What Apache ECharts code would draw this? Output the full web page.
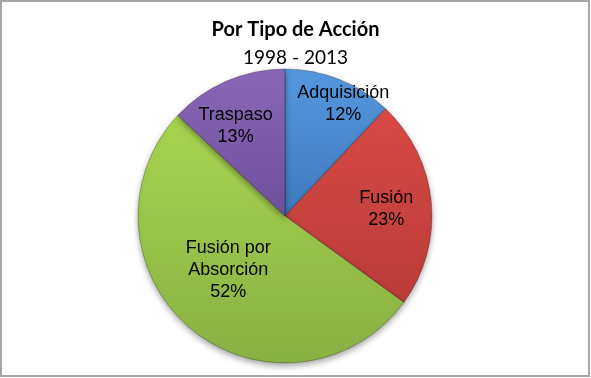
<!DOCTYPE html>
<html>
<head>
<meta charset="utf-8">
<script src="https://cdn.jsdelivr.net/npm/echarts@6/dist/echarts.min.js"></script>
<style>
  html, body { margin: 0; padding: 0; background: #fff; }
  #chart { width: 591px; height: 378px; }
</style>
</head>
<body>
<div id="chart"></div>
<script>
// datos del gráfico
const categories = ['Adquisición', 'Fusión', 'Fusión por\nAbsorción', 'Traspaso'];
const values = [12, 23, 52, 13];
// colores: claro arriba, oscuro abajo
const topColors = ['#5598de', '#d94a45', '#a8d44f', '#8a68b9'];
const bottomColors = ['#3f79bd', '#b93b38', '#89b043', '#6d4f9a'];
// desplazamiento de etiquetas (tipo "mejor ajuste" de Excel)
const labelShift = [[30, -41], [25, 0], [-8, -5], [-19, -20]];

const grad = (i) => new echarts.graphic.LinearGradient(0, 0, 0, 1, [
  { offset: 0, color: topColors[i] },
  { offset: 1, color: bottomColors[i] }
]);

const chart = echarts.init(document.getElementById('chart'));

const option = {
  backgroundColor: '#fff',
  animation: false,
  title: {
    text: 'Por Tipo de Acción',
    subtext: '1998 - 2013',
    left: 'center',
    top: 15,
    itemGap: 8,
    textStyle: { fontFamily: 'Lato', fontWeight: 'bold', fontSize: 20, color: '#000' },
    subtextStyle: { fontFamily: 'Lato', fontSize: 19, color: '#000' }
  },
  graphic: [{
    type: 'rect',
    shape: { x: 1, y: 1, width: 588, height: 375 },
    style: { fill: null, stroke: '#a6a6a6', lineWidth: 2 },
    silent: true
  }],
  series: [{
    type: 'pie',
    center: [285, 216],
    radius: 147,
    startAngle: 90,
    clockwise: true,
    data: categories.map((name, i) => ({
      name: name,
      value: values[i],
      itemStyle: { color: grad(i) }
    })),
    itemStyle: {
      borderColor: 'rgba(0,0,0,0.25)',
      borderWidth: 1,
      shadowBlur: 6,
      shadowOffsetY: 3,
      shadowColor: 'rgba(0,0,0,0.35)'
    },
    label: {
      show: true,
      position: 'inner',
      formatter: (p) => p.name + '\n' + p.value + '%',
      fontFamily: 'Liberation Sans',
      fontSize: 18,
      lineHeight: 22,
      color: '#000'
    },
    labelLayout: (p) => ({ dx: labelShift[p.dataIndex][0], dy: labelShift[p.dataIndex][1] }),
    labelLine: { show: false },
    emphasis: { disabled: true }
  }]
};

chart.setOption(option);
</script>
</body>
</html>
